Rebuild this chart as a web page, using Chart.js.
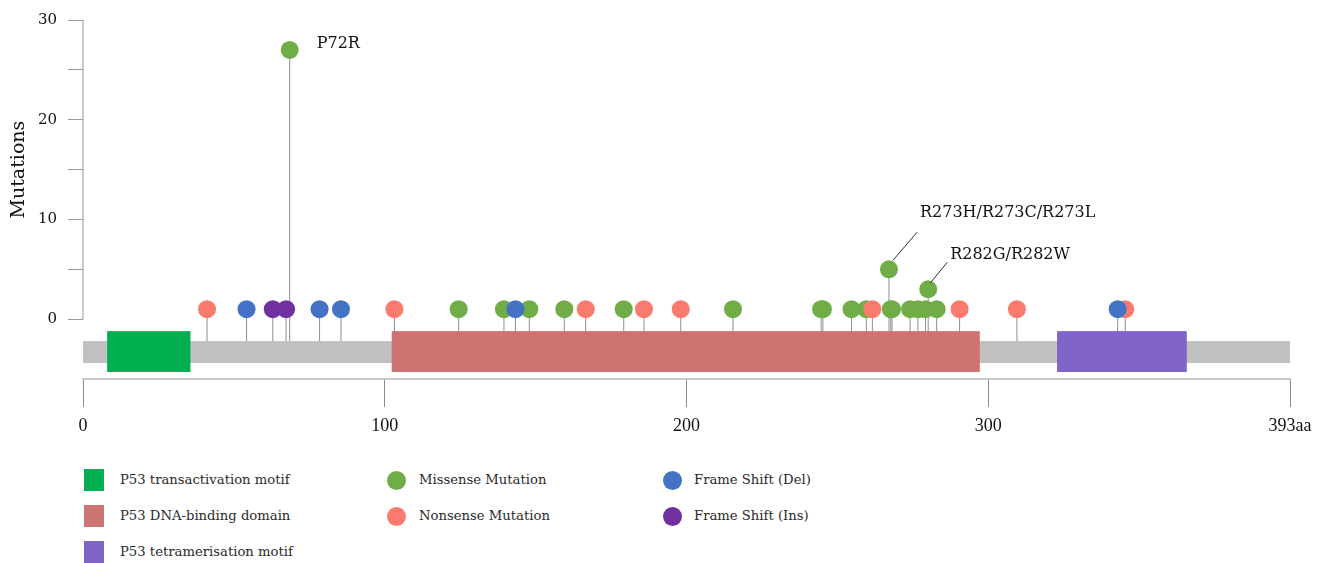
<!DOCTYPE html>
<html>
<head>
<meta charset="utf-8">
<title>TP53 mutations</title>
<script src="https://cdn.jsdelivr.net/npm/chart.js@4.4.1/dist/chart.umd.min.js"></script>
<style>
  html, body { margin: 0; padding: 0; background: #fff; }
  #wrap { position: relative; width: 1340px; height: 563px; overflow: hidden; }
  #plot { position: absolute; left: 0; top: 0; }
  .lg-mark { position: absolute; }
  .lg-text { position: absolute; font-family: "DejaVu Serif", serif; font-size: 13.2px; color: #2a2a2a;
             line-height: 16px; transform: translateY(-50%); white-space: nowrap; }
</style>
</head>
<body>
<div id="wrap">
  <canvas id="plot" width="1340" height="450"></canvas>
  <div id="legend"></div>
</div>
<script>
// ---- protein track ----
const proteinLabel = '393aa';
const axisMax = 400;
const xTickValues = [0, 100, 200, 300, 400];
const xTickLabels = ['0', '100', '200', '300', proteinLabel];
const yTickValues = [0, 5, 10, 15, 20, 25, 30];
const yLabelValues = [0, 10, 20, 30];

const domainNames  = ['P53 transactivation motif', 'P53 DNA-binding domain', 'P53 tetramerisation motif'];
const domainStarts = [8, 102.3, 322.8];
const domainEnds   = [35.6, 297.2, 365.8];

// ---- mutations (position in aa, number of samples) ----
const missensePos   = [68.5, 124.5, 139.5, 147.9, 159.5, 179.2, 215.4, 244.6, 245.2, 254.7,
                       259.6, 267.1, 267.7, 268.1, 274.1, 276.7, 279.2, 280.1, 282.9];
const missenseCount = [27, 1, 1, 1, 1, 1, 1, 1, 1, 1,
                       1, 5, 1, 1, 1, 1, 1, 3, 1];
const nonsensePos   = [41.1, 103.2, 166.6, 185.9, 198.1, 261.6, 290.5, 309.5, 345.4];
const nonsenseCount = [1, 1, 1, 1, 1, 1, 1, 1, 1];
const delPos        = [54.2, 78.4, 85.5, 143.3, 342.9];
const delCount      = [1, 1, 1, 1, 1];
const insPos        = [62.9, 67.3];
const insCount      = [1, 1];

const hotspotPos    = [68.5, 267.1, 280.1];
const hotspotText   = ['P72R', 'R273H/R273C/R273L', 'R282G/R282W'];

// ---- styling ----
const domainColors = ['#00b050', '#cd7371', '#8064c8'];
const mutationNames = ['Missense Mutation', 'Nonsense Mutation', 'Frame Shift (Del)', 'Frame Shift (Ins)'];
const mutationColors = ['#70ad47', '#fa7b6e', '#4472c4', '#7030a0'];
const backboneColor = '#c0c0c0';
const backboneTop = -2.2, backboneBottom = -4.4;
const domainTop = -1.2, domainBottom = -5.3;
// label placement relative to the lollipop head, in px: [textDx, textDy, leaderFromDx, leaderFromDy, leaderToDx, leaderToDy]
const hotspotLayout = [
  [27, -6, null, null, null, null],
  [31, -56, 4, -9, 28, -37],
  [22, -34, 2, -6, 19, -27]
];

const zip = (xs, ys) => xs.map((x, i) => ({ x: x, y: ys[i] }));

// stems: one broken line, each segment from the backbone up to the count
const stemData = [];
[[missensePos, missenseCount], [nonsensePos, nonsenseCount], [delPos, delCount], [insPos, insCount]]
  .forEach(([ps, cs]) => ps.forEach((p, i) => {
    stemData.push({ x: p, y: backboneTop }, { x: p, y: cs[i] }, { x: p, y: null });
  }));

const headSets = [
  [missensePos, missenseCount], [nonsensePos, nonsenseCount], [delPos, delCount], [insPos, insCount]
].map(([ps, cs], k) => ({
  type: 'scatter',
  label: mutationNames[k],
  data: zip(ps, cs),
  backgroundColor: mutationColors[k],
  borderWidth: 0,
  pointRadius: 9,
  pointHoverRadius: 9,
  order: 3 - k
}));

// backbone and domain boxes, drawn right after the stems so heads stay on top
const trackPlugin = {
  id: 'track',
  afterDatasetDraw(chart, args) {
    if (args.meta.type !== 'line') return;
    const { ctx, scales: { x, y } } = chart;
    ctx.save();
    ctx.fillStyle = backboneColor;
    const bx0 = x.getPixelForValue(0), bx1 = x.getPixelForValue(axisMax);
    const by0 = y.getPixelForValue(backboneTop), by1 = y.getPixelForValue(backboneBottom);
    ctx.fillRect(bx0, by0, bx1 - bx0, by1 - by0);
    domainStarts.forEach((s, i) => {
      const x0 = x.getPixelForValue(s), x1 = x.getPixelForValue(domainEnds[i]);
      const y0 = y.getPixelForValue(domainTop), y1 = y.getPixelForValue(domainBottom);
      ctx.fillStyle = domainColors[i];
      ctx.fillRect(x0, y0, x1 - x0, y1 - y0);
    });
    ctx.restore();
  }
};

// y axis line (0..30), axis title and hotspot labels
const decorPlugin = {
  id: 'decor',
  afterDraw(chart) {
    const { ctx, chartArea, scales: { x, y } } = chart;
    ctx.save();
    ctx.strokeStyle = '#a8a8a8';
    ctx.lineWidth = 1.2;
    ctx.beginPath();
    ctx.moveTo(chartArea.left, y.getPixelForValue(30));
    ctx.lineTo(chartArea.left, y.getPixelForValue(0));
    ctx.stroke();

    ctx.fillStyle = '#111';
    ctx.font = '19px "DejaVu Serif"';
    ctx.textAlign = 'center';
    ctx.textBaseline = 'middle';
    ctx.translate(19, y.getPixelForValue(15));
    ctx.rotate(-Math.PI / 2);
    ctx.fillText('Mutations', 0, 0);
    ctx.restore();

    ctx.save();
    ctx.font = '16px "DejaVu Serif"';
    ctx.fillStyle = '#111';
    ctx.textAlign = 'left';
    ctx.textBaseline = 'middle';
    ctx.strokeStyle = '#333';
    ctx.lineWidth = 1;
    hotspotPos.forEach((p, i) => {
      const count = missenseCount[missensePos.indexOf(p)];
      const hx = x.getPixelForValue(p), hy = y.getPixelForValue(count);
      const L = hotspotLayout[i];
      if (L[2] !== null) {
        ctx.beginPath();
        ctx.moveTo(hx + L[2], hy + L[3]);
        ctx.lineTo(hx + L[4], hy + L[5]);
        ctx.stroke();
      }
      ctx.fillText(hotspotText[i], hx + L[0], hy + L[1]);
    });
    ctx.restore();
  }
};

new Chart(document.getElementById('plot'), {
  type: 'scatter',
  data: {
    datasets: [
      ...headSets,
      {
        type: 'line',
        label: 'stems',
        data: stemData,
        borderColor: '#8f8f8f',
        borderWidth: 1,
        pointRadius: 0,
        pointHoverRadius: 0,
        spanGaps: false,
        fill: false,
        order: 4
      }
    ]
  },
  options: {
    responsive: false,
    animation: false,
    events: [],
    layout: { padding: { top: 18, right: 50, bottom: 0, left: 0 } },
    plugins: { legend: { display: false }, tooltip: { enabled: false } },
    scales: {
      x: {
        type: 'linear',
        min: 0,
        max: axisMax,
        afterBuildTicks: s => { s.ticks = xTickValues.map(v => ({ value: v })); },
        afterFit: s => { s.height = 71; },
        grid: { drawOnChartArea: false, drawTicks: true, tickLength: 28, color: '#8c8c8c', lineWidth: 1 },
        border: { display: true, color: '#c8c8c8', width: 2 },
        ticks: {
          autoSkip: false, maxRotation: 0, padding: 8, color: '#111',
          font: { family: '"Liberation Serif"', size: 18 },
          callback: (v, i) => xTickLabels[i]
        }
      },
      y: {
        type: 'linear',
        min: -6,
        max: 30,
        afterBuildTicks: s => { s.ticks = yTickValues.map(v => ({ value: v })); },
        afterFit: s => { s.width = 83; },
        grid: { drawOnChartArea: false, drawTicks: true, tickLength: 15, color: '#9a9a9a', lineWidth: 1 },
        border: { display: false },
        ticks: {
          padding: 11, color: '#111',
          font: { family: '"DejaVu Serif"', size: 15 },
          callback: v => (yLabelValues.includes(v) ? String(v) : '')
        }
      }
    }
  },
  plugins: [trackPlugin, decorPlugin]
});

// legend: domains in the first column, mutation types in two more
const legend = document.getElementById('legend');
const rowY = [480, 516, 552];
function addItem(kind, color, text, markX, textX, cy) {
  const m = document.createElement('div');
  m.className = 'lg-mark';
  if (kind === 'square') {
    Object.assign(m.style, { left: markX + 'px', top: (cy - 11) + 'px', width: '20px', height: '22px', background: color });
  } else {
    Object.assign(m.style, { left: (markX - 9.5) + 'px', top: (cy - 9.5) + 'px', width: '19px', height: '19px',
                             borderRadius: '50%', background: color });
  }
  legend.appendChild(m);
  const t = document.createElement('div');
  t.className = 'lg-text';
  t.textContent = text;
  Object.assign(t.style, { left: textX + 'px', top: cy + 'px' });
  legend.appendChild(t);
}
domainNames.forEach((n, i) => addItem('square', domainColors[i], n, 84, 120, rowY[i]));
addItem('circle', mutationColors[0], mutationNames[0], 396, 419, rowY[0]);
addItem('circle', mutationColors[1], mutationNames[1], 396, 419, rowY[1]);
addItem('circle', mutationColors[2], mutationNames[2], 672, 694, rowY[0]);
addItem('circle', mutationColors[3], mutationNames[3], 672, 694, rowY[1]);
</script>
</body>
</html>
